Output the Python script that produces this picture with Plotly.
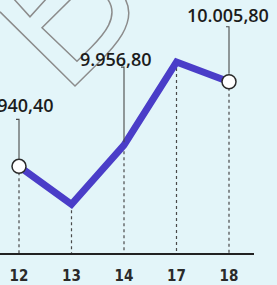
import plotly.graph_objects as go

# ---- data ----
days = ["12", "13", "14", "17", "18"]
index_values = [9940.40, 9911.0, 9956.80, 10021.0, 10005.80]
label_texts = {0: "9.940,40", 2: "9.956,80", 4: "10.005,80"}
marker_idx = [0, 4]

# ---- layout geometry ----
W, H = 277, 285
ML, MR, MT, MB = 0, 23, 0, 29
PW, PH = W - ML - MR, H - MT - MB
BG = "#e3f5f9"
LINE_C = "#4a3dc8"
INK = "#1c1c1c"

xpos = list(range(len(days)))
y_top, y_bot = 10069.0, 9873.4
x_rng = [-19 / 52.5, (PW - 19) / 52.5]

fig = go.Figure()

# main line
fig.add_trace(go.Scatter(
    x=xpos, y=index_values, mode="lines",
    line=dict(color=LINE_C, width=7), hoverinfo="skip", showlegend=False,
))
# end markers
fig.add_trace(go.Scatter(
    x=[xpos[i] for i in marker_idx], y=[index_values[i] for i in marker_idx],
    mode="markers",
    marker=dict(size=14, color="white", line=dict(color="#2a2a2a", width=1.5)),
    hoverinfo="skip", showlegend=False,
))

shapes = []
# dotted drop lines
for xi, v in zip(xpos, index_values):
    shapes.append(dict(type="line", xref="x", yref="y", x0=xi, x1=xi, y0=v, y1=y_bot,
                       line=dict(color="#4a4a4a", width=1.2, dash="dot"), layer="below"))

# leader lines (pixel offsets relative to the point)
leader = {0: (7, 47, -3), 2: (3, 78, -3), 4: (8, 55, -3)}
for i, (a, b, hook) in leader.items():
    shapes.append(dict(type="path", xref="x", yref="y", xsizemode="pixel", ysizemode="pixel",
                       xanchor=xpos[i], yanchor=index_values[i],
                       path=f"M {hook},{b} L 0,{b} L 0,{a}",
                       line=dict(color="#4a4a4a", width=1.1)))

# watermark outline (decorative), pixel coords -> paper
def P(px, py):
    return f"{px / PW:.4f},{1 - py / PH:.4f}"

wm = [
    f"M {P(0,12)} L {P(75,87)} L {P(97,65)} C {P(112,50)} {P(140,22)} {P(124,-3)}",
    f"M {P(72,-2)} L {P(42,28)} L {P(77,62)} L {P(91,48)} C {P(102,37)} {P(122,16)} {P(106,-3)}",
    f"M {P(13,-2)} L {P(30,17)} L {P(47,-2)}",
]
for p in wm:
    shapes.append(dict(type="path", xref="paper", yref="paper", path=p,
                       line=dict(color="#8c8c8c", width=1.5), layer="above"))

annotations = []
label_shift = {0: (-1, 61), 2: (-8, 86), 4: (-1, 67)}
for i, txt in label_texts.items():
    dx, dy = label_shift[i]
    annotations.append(dict(x=xpos[i], y=index_values[i], xref="x", yref="y",
                            text=txt, showarrow=False, xanchor="center", yanchor="middle",
                            xshift=dx, yshift=dy,
                            font=dict(family="Open Sans", size=18, color=INK, weight=600)))

fig.update_layout(
    width=W, height=H,
    margin=dict(l=ML, r=MR, t=MT, b=MB, pad=0),
    paper_bgcolor=BG, plot_bgcolor=BG,
    shapes=shapes, annotations=annotations,
    xaxis=dict(range=x_rng, tickvals=xpos, ticktext=days, showgrid=False, zeroline=False,
               showline=True, linecolor="#222222", linewidth=1.5, ticks="",
               ticklabelstandoff=8,
               tickfont=dict(family="DejaVu Sans Condensed, Liberation Sans Narrow, Roboto", size=15,
                             color="#2a2a2a", weight=600),
               fixedrange=True),
    yaxis=dict(range=[y_bot, y_top], visible=False, showgrid=False, zeroline=False, fixedrange=True),
)

fig.write_html("out.html", config={"displayModeBar": False, "staticPlot": True},
               post_script="document.body.style.margin='0';document.body.style.background='" + BG + "';")
